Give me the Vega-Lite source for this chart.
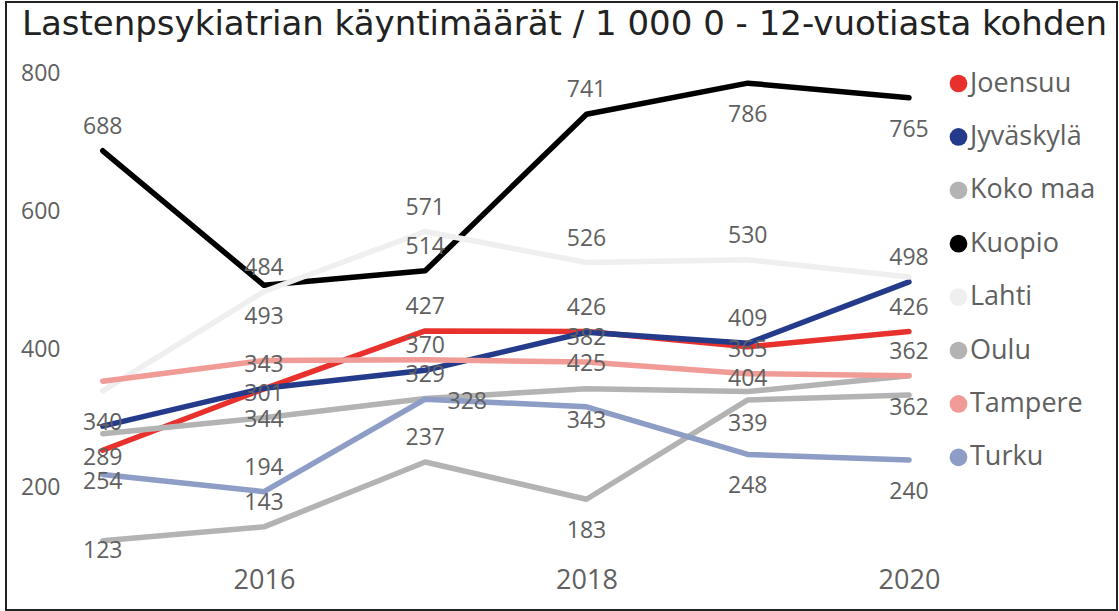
{
  "$schema": "https://vega.github.io/schema/vega-lite/v6.json",
  "width": 1111,
  "height": 608,
  "autosize": "none",
  "padding": {"left": 6, "top": 2, "right": 2, "bottom": 1},
  "background": "white",
  "config": {"view": {"stroke": "#222222", "strokeWidth": 2}},
  "title": {
    "text": "Lastenpsykiatrian käyntimäärät / 1 000 0 - 12-vuotiasta kohden",
    "anchor": "start",
    "font": "DejaVu Sans",
    "fontSize": 34,
    "fontWeight": "normal",
    "color": "#222222",
    "baseline": "alphabetic",
    "offset": 0,
    "dx": 16,
    "dy": 67
  },
  "data": {
    "values": [
      {"city": "Joensuu", "year": 2015, "value": 254},
      {"city": "Joensuu", "year": 2016, "value": 343},
      {"city": "Joensuu", "year": 2017, "value": 427},
      {"city": "Joensuu", "year": 2018, "value": 426},
      {"city": "Joensuu", "year": 2019, "value": 404},
      {"city": "Joensuu", "year": 2020, "value": 426},
      {"city": "Jyväskylä", "year": 2015, "value": 289},
      {"city": "Jyväskylä", "year": 2016, "value": 344},
      {"city": "Jyväskylä", "year": 2017, "value": 370},
      {"city": "Jyväskylä", "year": 2018, "value": 425},
      {"city": "Jyväskylä", "year": 2019, "value": 409},
      {"city": "Jyväskylä", "year": 2020, "value": 498},
      {"city": "Koko maa", "year": 2015, "value": 278},
      {"city": "Koko maa", "year": 2016, "value": 301},
      {"city": "Koko maa", "year": 2017, "value": 329},
      {"city": "Koko maa", "year": 2018, "value": 343},
      {"city": "Koko maa", "year": 2019, "value": 339},
      {"city": "Koko maa", "year": 2020, "value": 362},
      {"city": "Kuopio", "year": 2015, "value": 688},
      {"city": "Kuopio", "year": 2016, "value": 493},
      {"city": "Kuopio", "year": 2017, "value": 514},
      {"city": "Kuopio", "year": 2018, "value": 741},
      {"city": "Kuopio", "year": 2019, "value": 786},
      {"city": "Kuopio", "year": 2020, "value": 765},
      {"city": "Lahti", "year": 2015, "value": 340},
      {"city": "Lahti", "year": 2016, "value": 484},
      {"city": "Lahti", "year": 2017, "value": 571},
      {"city": "Lahti", "year": 2018, "value": 526},
      {"city": "Lahti", "year": 2019, "value": 530},
      {"city": "Lahti", "year": 2020, "value": 505},
      {"city": "Oulu", "year": 2015, "value": 123},
      {"city": "Oulu", "year": 2016, "value": 143},
      {"city": "Oulu", "year": 2017, "value": 237},
      {"city": "Oulu", "year": 2018, "value": 183},
      {"city": "Oulu", "year": 2019, "value": 327},
      {"city": "Oulu", "year": 2020, "value": 334},
      {"city": "Tampere", "year": 2015, "value": 354},
      {"city": "Tampere", "year": 2016, "value": 384},
      {"city": "Tampere", "year": 2017, "value": 385},
      {"city": "Tampere", "year": 2018, "value": 382},
      {"city": "Tampere", "year": 2019, "value": 365},
      {"city": "Tampere", "year": 2020, "value": 362},
      {"city": "Turku", "year": 2015, "value": 219},
      {"city": "Turku", "year": 2016, "value": 194},
      {"city": "Turku", "year": 2017, "value": 328},
      {"city": "Turku", "year": 2018, "value": 317},
      {"city": "Turku", "year": 2019, "value": 248},
      {"city": "Turku", "year": 2020, "value": 240}
    ]
  },
  "encoding": {
    "x": {
      "field": "year",
      "type": "quantitative",
      "scale": {"domain": [2014.4, 2021.29], "nice": false, "zero": false},
      "axis": {
        "title": null,
        "values": [2016, 2018, 2020],
        "format": "d",
        "grid": false,
        "domain": false,
        "ticks": false,
        "tickSize": 0,
        "offset": -30,
        "labelPadding": 0,
        "labelBaseline": "middle",
        "labelFont": "Open Sans",
        "labelFontSize": 27,
        "labelColor": "#606060"
      }
    },
    "y": {
      "field": "value",
      "type": "quantitative",
      "scale": {"domain": [22.5, 903.6], "nice": false, "zero": false},
      "axis": {
        "title": null,
        "values": [200, 400, 600, 800],
        "grid": false,
        "domain": false,
        "ticks": false,
        "tickSize": 0,
        "offset": -54,
        "labelPadding": 0,
        "labelAlign": "right",
        "labelBaseline": "middle",
        "labelFont": "Open Sans",
        "labelFontSize": 23,
        "labelColor": "#606060"
      }
    }
  },
  "layer": [
    {
      "mark": {"type": "line", "strokeWidth": 5.5, "strokeCap": "round", "strokeJoin": "round"},
      "encoding": {
        "color": {
          "field": "city",
          "type": "nominal",
          "scale": {
            "domain": ["Joensuu", "Jyväskylä", "Koko maa", "Kuopio", "Lahti", "Oulu", "Tampere", "Turku"],
            "range": ["#E8312C", "#243A8A", "#B3B3B3", "#000000", "#EFEFEF", "#B3B3B3", "#F19B97", "#8E9DC6"]
          },
          "legend": {
            "title": null,
            "orient": "none",
            "legendX": 939,
            "legendY": 68,
            "padding": 0,
            "symbolType": "circle",
            "symbolSize": 314,
            "symbolStrokeWidth": 0,
            "labelFont": "Open Sans",
            "labelFontSize": 27,
            "labelColor": "#606060",
            "labelOffset": -2,
            "rowPadding": 25.4,
            "encode": {
              "symbols": {
                "update": {
                  "fill": {"scale": "color", "field": "value"},
                  "strokeWidth": {"value": 0}
                }
              }
            }
          }
        }
      }
    },
    {
      "transform": [{"filter": "indexof(['Kuopio|2015','Lahti|2016','Joensuu|2016','Koko maa|2016','Turku|2016','Oulu|2016','Kuopio|2017','Lahti|2017','Joensuu|2017','Jyväskylä|2017','Koko maa|2017','Oulu|2017','Kuopio|2018','Lahti|2018','Joensuu|2018','Tampere|2018','Lahti|2019','Jyväskylä|2019','Tampere|2019','Jyväskylä|2020','Joensuu|2020','Tampere|2020'], datum.city + '|' + datum.year) >= 0"}],
      "mark": {"type": "text", "dy": -24, "font": "Open Sans", "fontSize": 23, "color": "#606060", "align": "center", "baseline": "middle"},
      "encoding": {"text": {"field": "value", "type": "quantitative"}}
    },
    {
      "transform": [{"filter": "indexof(['Lahti|2015','Jyväskylä|2015','Joensuu|2015','Kuopio|2016','Jyväskylä|2016','Jyväskylä|2018','Koko maa|2018','Oulu|2018','Kuopio|2019','Joensuu|2019','Koko maa|2019','Turku|2019','Kuopio|2020','Koko maa|2020','Turku|2020'], datum.city + '|' + datum.year) >= 0"}],
      "mark": {"type": "text", "dy": 32, "font": "Open Sans", "fontSize": 23, "color": "#606060", "align": "center", "baseline": "middle"},
      "encoding": {"text": {"field": "value", "type": "quantitative"}}
    },
    {
      "transform": [{"filter": "datum.city == 'Oulu' && datum.year == 2015"}],
      "mark": {"type": "text", "dy": 10, "font": "Open Sans", "fontSize": 23, "color": "#606060", "align": "center", "baseline": "middle"},
      "encoding": {"text": {"field": "value", "type": "quantitative"}}
    },
    {
      "transform": [{"filter": "datum.city == 'Turku' && datum.year == 2017"}],
      "mark": {"type": "text", "dx": 42, "dy": 3, "font": "Open Sans", "fontSize": 23, "color": "#606060", "align": "center", "baseline": "middle"},
      "encoding": {"text": {"field": "value", "type": "quantitative"}}
    }
  ]
}
